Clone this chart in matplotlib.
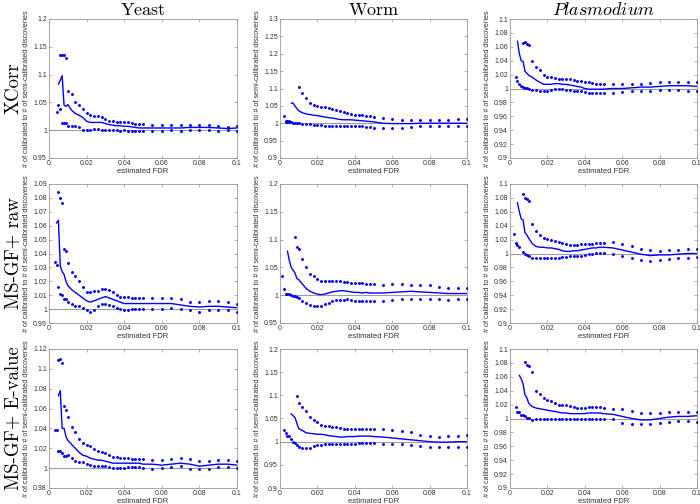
import numpy as np
import matplotlib
matplotlib.use("Agg")
import matplotlib.pyplot as plt
from matplotlib.ticker import FuncFormatter

n = np.nan

# estimated FDR grid shared by every panel
fdr = ([0.001, 0.002, 0.003, 0.004, 0.005, 0.006, 0.007, 0.008, 0.009]
       + [0.010, 0.012, 0.014, 0.016, 0.018, 0.020, 0.022, 0.024, 0.026, 0.028, 0.030,
          0.032, 0.034, 0.036, 0.038, 0.040, 0.042, 0.044, 0.046, 0.048, 0.050]
       + [0.055, 0.060, 0.065, 0.070, 0.075, 0.080, 0.085, 0.090, 0.095, 0.100])

species = [r"$\mathrm{Yeast}$", r"$\mathrm{Worm}$", r"$\mathit{Plasmodium}$"]
scores = ["XCorr", "MS-GF+ raw", "MS-GF+ E-value"]

# ---- XCorr ----
yeast_xcorr_mid = ([n, n, n, n, 1.083, 1.090, 1.098, 1.045, 1.043]
                   + [1.046, 1.036, 1.030, 1.027, 1.023, 1.016, 1.014, 1.014, 1.014, 1.014, 1.012,
                      1.010, 1.009, 1.008, 1.008, 1.007, 1.007, 1.006, 1.005, 1.004, 1.004]
                   + [1.004, 1.004, 1.004, 1.004, 1.005, 1.005, 1.005, 1.004, 1.003, 1.004])
yeast_xcorr_up = ([n, n, n, 1.033, 1.045, 1.136, 1.136, 1.136, 1.130]
                  + [1.071, 1.065, 1.051, 1.046, 1.039, 1.031, 1.027, 1.026, 1.026, 1.024, 1.020,
                     1.017, 1.016, 1.015, 1.015, 1.014, 1.014, 1.013, 1.012, 1.011, 1.011]
                  + [1.010, 1.009, 1.009, 1.010, 1.010, 1.009, 1.009, 1.007, 1.006, 1.008])
yeast_xcorr_lo = ([n, n, n, n, n, 1.039, 1.013, 1.013, 1.013]
                  + [1.008, 1.008, 1.008, 1.006, 1.001, 1.001, 1.001, 1.002, 1.002, 1.001, 1.001,
                     1.000, 1.000, 1.000, 0.999, 1.000, 0.999, 0.999, 0.999, 0.999, 0.999]
                  + [0.999, 0.999, 1.000, 0.999, 1.000, 1.000, 1.000, 0.999, 1.000, 0.999])

worm_xcorr_mid = ([n, n, n, n, n, 1.058, 1.058, 1.050, 1.042]
                  + [1.036, 1.030, 1.027, 1.025, 1.023, 1.022, 1.020, 1.018, 1.016, 1.015, 1.013,
                     1.011, 1.010, 1.010, 1.010, 1.009, 1.008, 1.007, 1.006, 1.005, 1.004]
                  + [1.000, 0.999, 0.999, 0.999, 1.000, 1.000, 1.000, 1.000, 1.000, 1.000])
worm_xcorr_up = ([n, 1.020, 1.006, 1.006, 1.006, 1.005, n, n, n]
                 + [1.104, 1.088, 1.072, 1.059, 1.052, 1.050, 1.048, 1.046, 1.044, 1.042, 1.037,
                    1.034, 1.031, 1.029, 1.027, 1.025, 1.024, 1.023, 1.022, 1.022, 1.019]
                 + [1.015, 1.012, 1.010, 1.009, 1.009, 1.009, 1.010, 1.010, 1.011, 1.012])
worm_xcorr_lo = ([n, n, 1.005, 1.005, 1.005, 1.005, 1.002, 1.002, 1.002]
                 + [1.001, 0.999, 0.997, 0.997, 0.996, 0.995, 0.994, 0.993, 0.993, 0.992, 0.992,
                    0.992, 0.993, 0.993, 0.993, 0.992, 0.992, 0.991, 0.990, 0.989, 0.986]
                 + [0.986, 0.985, 0.986, 0.990, 0.991, 0.991, 0.991, 0.991, 0.992, 0.992])

plas_xcorr_mid = ([n, n, n, 1.068, 1.050, 1.040, 1.039, 1.025, 1.022]
                  + [1.019, 1.016, 1.012, 1.009, 1.006, 1.006, 1.006, 1.007, 1.007, 1.006, 1.006,
                     1.005, 1.004, 1.003, 1.002, 1.000, 0.999, 0.999, 0.999, 0.999, 0.999]
                  + [1.000, 1.000, 1.001, 1.002, 1.002, 1.003, 1.004, 1.004, 1.004, 1.003])
plas_xcorr_up = ([n, n, 1.016, n, n, n, 1.066, 1.067, 1.064]
                 + [1.062, 1.039, 1.031, 1.026, 1.019, 1.017, 1.016, 1.015, 1.014, 1.014, 1.013,
                    1.013, 1.012, 1.011, 1.011, 1.010, 1.009, 1.008, 1.007, 1.006, 1.006]
                 + [1.006, 1.006, 1.006, 1.006, 1.008, 1.009, 1.010, 1.010, 1.009, 1.009])
plas_xcorr_lo = ([n, n, n, 1.011, 1.007, 1.004, 1.002, 1.001, 1.001]
                 + [1.000, 0.998, 0.998, 0.997, 0.997, 0.997, 0.998, 0.999, 0.999, 0.999, 0.998,
                    0.998, 0.997, 0.997, 0.996, 0.995, 0.994, 0.994, 0.994, 0.994, 0.994]
                 + [0.994, 0.995, 0.996, 0.997, 0.997, 0.998, 0.998, 0.998, 0.997, 0.996])

# ---- MS-GF+ raw ----
yeast_raw_mid = ([n, n, n, 1.062, 1.064, 1.031, 1.027, 1.025, 1.020]
                 + [1.017, 1.014, 1.012, 1.010, 1.008, 1.006, 1.005, 1.006, 1.007, 1.008, 1.009,
                    1.008, 1.007, 1.006, 1.005, 1.004, 1.004, 1.004, 1.004, 1.004, 1.004]
                 + [1.004, 1.004, 1.004, 1.003, 1.002, 1.0015, 1.002, 1.002, 1.0015, 1.001])
yeast_raw_up = ([n, n, 1.034, 1.032, 1.084, 1.080, 1.076, 1.043, 1.042]
                + [1.033, 1.027, 1.024, 1.020, 1.016, 1.012, 1.012, 1.013, 1.013, 1.0145, 1.0145,
                   1.014, 1.012, 1.010, 1.009, 1.009, 1.009, 1.008, 1.008, 1.008, 1.008]
                + [1.008, 1.008, 1.008, 1.007, 1.005, 1.005, 1.006, 1.006, 1.005, 1.004])
yeast_raw_lo = ([n, n, n, n, 1.016, 1.011, 1.010, 1.007, 1.007]
                + [1.005, 1.004, 1.002, 1.002, 1.001, 0.999, 0.998, 0.999, 1.002, 1.004, 1.004,
                   1.003, 1.002, 1.001, 1.000, 0.9995, 0.9995, 1.000, 1.000, 1.000, 1.000]
                + [1.000, 1.000, 1.001, 1.000, 0.999, 0.998, 0.999, 0.999, 0.999, 0.998])

worm_raw_mid = ([n, n, n, 1.079, 1.062, 1.050, 1.045, 1.040, 1.030]
                + [1.028, 1.020, 1.012, 1.007, 1.004, 1.002, 1.001, 1.002, 1.004, 1.006, 1.007,
                   1.008, 1.008, 1.007, 1.006, 1.005, 1.005, 1.004, 1.005, 1.004, 1.004]
                + [1.004, 1.005, 1.006, 1.007, 1.006, 1.005, 1.004, 1.003, 1.003, 1.003])
worm_raw_up = ([1.034, 1.012, n, n, n, n, n, 1.104, 1.086]
               + [1.083, 1.066, 1.051, 1.039, 1.035, 1.030, 1.026, 1.025, 1.025, 1.025, 1.025,
                  1.025, 1.024, 1.023, 1.022, 1.022, 1.022, 1.022, 1.021, 1.020, 1.020]
               + [1.019, 1.020, 1.020, 1.019, 1.019, 1.018, 1.015, 1.013, 1.013, 1.013])
worm_raw_lo = ([n, n, 1.002, 1.002, 1.002, 1.001, 0.999, 0.998, 0.997]
               + [0.995, 0.990, 0.986, 0.983, 0.980, 0.981, 0.980, 0.984, 0.986, 0.989, 0.992,
                  0.992, 0.992, 0.993, 0.991, 0.990, 0.990, 0.989, 0.989, 0.989, 0.990]
               + [0.990, 0.991, 0.993, 0.994, 0.994, 0.994, 0.993, 0.992, 0.993, 0.993])

plas_raw_mid = ([n, n, n, 1.073, 1.060, 1.050, 1.048, 1.030, 1.027]
                + [1.022, 1.014, 1.010, 1.009, 1.009, 1.008, 1.008, 1.007, 1.006, 1.004, 1.003,
                   1.003, 1.004, 1.004, 1.005, 1.006, 1.007, 1.008, 1.008, 1.009, 1.009]
                + [1.008, 1.005, 1.002, 0.999, 0.997, 0.998, 0.998, 0.999, 1.000, 1.000])
plas_raw_up = ([n, 1.028, 1.015, 1.012, n, n, 1.086, 1.080, 1.078]
               + [1.076, 1.042, 1.032, 1.026, 1.023, 1.021, 1.020, 1.018, 1.017, 1.015, 1.013,
                  1.012, 1.012, 1.012, 1.013, 1.014, 1.014, 1.014, 1.015, 1.015, 1.015]
               + [1.016, 1.013, 1.011, 1.007, 1.005, 1.004, 1.005, 1.005, 1.007, 1.007])
plas_raw_lo = ([n, n, n, n, 1.010, n, 1.002, 0.999, 0.998]
               + [0.997, 0.993, 0.993, 0.994, 0.994, 0.994, 0.994, 0.994, 0.994, 0.995, 0.995,
                  0.996, 0.996, 0.996, 0.997, 0.998, 0.999, 1.000, 1.001, 1.001, 1.001]
               + [1.000, 0.997, 0.993, 0.990, 0.989, 0.990, 0.992, 0.994, 0.994, 0.995])

# ---- MS-GF+ E-value ----
yeast_ev_mid = ([n, n, n, n, 1.073, 1.078, 1.040, 1.040, 1.032]
                + [1.028, 1.024, 1.020, 1.016, 1.013, 1.012, 1.010, 1.009, 1.008, 1.008, 1.007,
                   1.006, 1.005, 1.005, 1.005, 1.005, 1.005, 1.005, 1.005, 1.005, 1.004]
                + [1.004, 1.003, 1.004, 1.005, 1.004, 1.002, 1.003, 1.004, 1.004, 1.003])
yeast_ev_up = ([n, n, 1.038, 1.038, 1.109, 1.110, 1.106, 1.063, 1.059]
               + [1.052, 1.041, 1.036, 1.029, 1.025, 1.023, 1.022, 1.019, 1.017, 1.016, 1.015,
                  1.013, 1.011, 1.011, 1.010, 1.010, 1.010, 1.009, 1.009, 1.009, 1.009]
               + [1.008, 1.008, 1.009, 1.010, 1.009, 1.007, 1.007, 1.008, 1.008, 1.007])
yeast_ev_lo = ([n, n, n, n, 1.017, 1.017, 1.015, 1.012, 1.012]
               + [1.013, 1.010, 1.007, 1.006, 1.006, 1.004, 1.003, 1.002, 1.002, 1.002, 1.002,
                  1.001, 1.000, 1.000, 1.000, 1.000, 1.001, 1.001, 1.001, 1.001, 1.000]
               + [0.999, 1.000, 1.001, 1.002, 0.999, 0.999, 0.999, 1.001, 1.001, 1.000])

worm_ev_mid = ([n, n, n, n, n, 1.060, 1.056, 1.052, 1.040]
               + [1.028, 1.024, 1.019, 1.018, 1.017, 1.016, 1.016, 1.015, 1.013, 1.012, 1.011,
                  1.010, 1.010, 1.011, 1.011, 1.011, 1.012, 1.012, 1.012, 1.012, 1.011]
               + [1.010, 1.008, 1.006, 1.004, 1.002, 1.000, 0.999, 0.999, 1.000, 1.000])
worm_ev_up = ([n, 1.025, 1.018, 1.013, 1.013, n, n, n, 1.099]
              + [1.083, 1.074, 1.067, 1.053, 1.047, 1.042, 1.037, 1.034, 1.033, 1.032, 1.031,
                 1.030, 1.028, 1.027, 1.027, 1.027, 1.027, 1.028, 1.028, 1.028, 1.028]
              + [1.027, 1.025, 1.023, 1.021, 1.014, 1.013, 1.011, 1.012, 1.013, 1.014])
worm_ev_lo = ([n, n, n, n, n, 1.005, 1.000, 0.998, 0.992]
              + [0.988, 0.986, 0.986, 0.987, 0.990, 0.992, 0.993, 0.994, 0.995, 0.995, 0.995,
                 0.995, 0.996, 0.996, 0.996, 0.996, 0.997, 0.997, 0.997, 0.997, 0.997]
              + [0.996, 0.996, 0.995, 0.993, 0.991, 0.989, 0.989, 0.989, 0.989, 0.988])

plas_ev_mid = ([n, n, n, n, 1.062, 1.057, 1.050, 1.034, 1.030]
               + [1.022, 1.017, 1.015, 1.014, 1.013, 1.012, 1.011, 1.010, 1.009, 1.008, 1.008,
                  1.007, 1.007, 1.007, 1.007, 1.007, 1.008, 1.008, 1.008, 1.008, 1.007]
               + [1.006, 1.003, 1.000, 0.998, 0.998, 1.000, 1.002, 1.003, 1.003, 1.004])
plas_ev_up = ([n, n, 1.017, 1.010, 1.010, n, n, 1.082, 1.077]
              + [1.076, 1.067, 1.040, 1.035, 1.029, 1.027, 1.025, 1.022, 1.020, 1.019, 1.019,
                 1.018, 1.017, 1.015, 1.015, 1.015, 1.016, 1.016, 1.016, 1.016, 1.015]
              + [1.014, 1.013, 1.011, 1.008, 1.008, 1.008, 1.009, 1.009, 1.009, 1.009])
plas_ev_lo = ([n, n, n, n, n, 1.005, 1.005, 1.003, 1.001]
              + [1.001, 0.998, 0.999, 0.999, 1.000, 1.000, 0.9995, 0.999, 0.999, 0.9995, 0.9995,
                 0.9995, 0.999, 0.9995, 1.000, 1.000, 1.000, 1.000, 1.000, 1.000, 1.000]
              + [0.999, 0.994, 0.992, 0.992, 0.992, 0.993, 0.995, 0.996, 0.996, 0.995])

panels = [
    [(yeast_xcorr_mid, yeast_xcorr_up, yeast_xcorr_lo),
     (worm_xcorr_mid, worm_xcorr_up, worm_xcorr_lo),
     (plas_xcorr_mid, plas_xcorr_up, plas_xcorr_lo)],
    [(yeast_raw_mid, yeast_raw_up, yeast_raw_lo),
     (worm_raw_mid, worm_raw_up, worm_raw_lo),
     (plas_raw_mid, plas_raw_up, plas_raw_lo)],
    [(yeast_ev_mid, yeast_ev_up, yeast_ev_lo),
     (worm_ev_mid, worm_ev_up, worm_ev_lo),
     (plas_ev_mid, plas_ev_up, plas_ev_lo)],
]

# y limits and tick steps per panel (row, col)
ylims = [[(0.95, 1.2, 0.05), (0.9, 1.3, 0.05), (0.9, 1.1, 0.02)],
         [(0.99, 1.09, 0.01), (0.95, 1.2, 0.05), (0.9, 1.1, 0.02)],
         [(0.98, 1.12, 0.02), (0.9, 1.2, 0.05), (0.9, 1.1, 0.02)]]

lefts = [49, 280, 510]
widths = [188, 187, 187]
tops = [19, 184, 349]
H = 139
W_PX, H_PX = 700, 504

plt.rcParams["mathtext.fontset"] = "cm"
plt.rcParams["font.family"] = ["Liberation Sans", "DejaVu Sans"]

fig = plt.figure(figsize=(7.0, 5.04), dpi=100)
fmt = FuncFormatter(lambda v, p: "%g" % round(v, 4))
serif = ["cmr10", "DejaVu Serif"]
blue = (0, 0, 1)
edge = (0.6, 0.6, 0.6)
txt = (0.2, 0.2, 0.2)

x = np.array(fdr)
for r in range(3):
    for c in range(3):
        ax = fig.add_axes([lefts[c] / W_PX, 1 - (tops[r] + H) / H_PX,
                           widths[c] / W_PX, H / H_PX])
        mid, up, lo = [np.array(s, dtype=float) for s in panels[r][c]]
        ax.axhline(1.0, color=(0.62, 0.62, 0.62), lw=0.8, zorder=1)
        ok = ~np.isnan(mid)
        ax.plot(x[ok], mid[ok], color=blue, lw=1.0, zorder=3)
        ax.plot(x, up, ".", color=blue, ms=2.2, zorder=3)
        ax.plot(x, lo, ".", color=blue, ms=2.2, zorder=3)
        y0, y1, st = ylims[r][c]
        ax.set_xlim(0, 0.1)
        ax.set_ylim(y0, y1)
        ax.set_xticks(np.arange(0, 0.1001, 0.02))
        ax.set_yticks(np.arange(y0, y1 + st / 2, st))
        ax.xaxis.set_major_formatter(fmt)
        ax.yaxis.set_major_formatter(fmt)
        ax.tick_params(direction="in", length=2, width=0.5, labelsize=5,
                       color=edge, labelcolor=txt, top=True, right=True, pad=1.5)
        for sp in ax.spines.values():
            sp.set_linewidth(0.6)
            sp.set_color(edge)
        ax.set_xlabel("estimated FDR", fontsize=5.5, labelpad=1, color=txt)
        ax.set_ylabel("# of calibrated to # of semi-calibrated discoveries",
                      fontsize=5.2, labelpad=2, color=txt)
        if r == 0:
            ax.set_title(species[c], fontsize=13, pad=3)
    yc = 1 - (tops[r] + H / 2) / H_PX
    fig.text(0.02, yc, scores[r], rotation=90, ha="center", va="center",
             fontsize=13.5, family=serif)

fig.savefig("out.png", dpi=100)
